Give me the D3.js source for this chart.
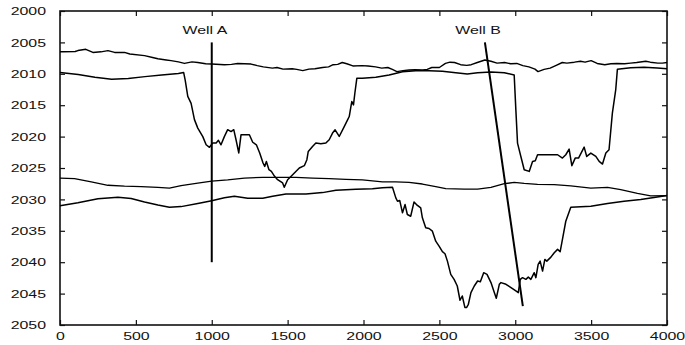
<!DOCTYPE html>
<html>
<head>
<meta charset="utf-8">
<script src="https://cdn.jsdelivr.net/npm/d3@7/dist/d3.min.js"></script>
<style>
  body { margin: 0; background: #fff; }
  #graph text { font-family: "Liberation Sans", Arial, sans-serif; font-size: 11.5px; fill: #111; }
</style>
</head>
<body>
<div id="graph"></div>
<script>
// tick values
const xTicks = [0, 500, 1000, 1500, 2000, 2500, 3000, 3500, 4000]
const yTicks = [2000, 2005, 2010, 2015, 2020, 2025, 2030, 2035, 2040, 2045, 2050]

// horizons, [distance, depth]
const topHorizon = [
  [0, 2006.5], [20, 2006.5], [100, 2006.45], [118, 2006.3], [170, 2006.1], [217, 2006.6], [270, 2006.5],
  [316, 2006.3], [360, 2006.6], [425, 2006.6], [460, 2006.85], [557, 2007.1], [610, 2007.4], [645, 2007.6],
  [700, 2007.8], [732, 2007.9], [780, 2008.1], [820, 2008.35], [870, 2008.1], [908, 2008.2], [960, 2008.4],
  [1000, 2008.45], [1083, 2008.55], [1130, 2008.5], [1171, 2008.35], [1259, 2008.45], [1300, 2008.7],
  [1340, 2008.9], [1400, 2009.1], [1430, 2009.0], [1470, 2009.25], [1530, 2009.2], [1560, 2009.3],
  [1600, 2009.5], [1640, 2009.25], [1680, 2009.2], [1730, 2009.0], [1770, 2008.9], [1800, 2008.55],
  [1830, 2008.5], [1860, 2008.2], [1890, 2008.4], [1930, 2008.75], [1990, 2008.7], [2030, 2008.75],
  [2080, 2008.9], [2120, 2009.1], [2160, 2009.0], [2190, 2009.3], [2220, 2009.65], [2260, 2009.5],
  [2300, 2009.4], [2340, 2009.35], [2390, 2009.4], [2420, 2009.3], [2450, 2009.0], [2500, 2009.0],
  [2540, 2008.35], [2570, 2008.15], [2600, 2008.2], [2640, 2008.55], [2680, 2008.65], [2710, 2008.55],
  [2750, 2008.2], [2800, 2007.8], [2840, 2008.0], [2880, 2008.3], [2930, 2008.2], [2970, 2008.4],
  [3010, 2008.35], [3050, 2008.7], [3090, 2008.9], [3130, 2009.25], [3150, 2009.65], [3190, 2009.3],
  [3230, 2009.1], [3270, 2008.65], [3310, 2008.2], [3340, 2008.3], [3390, 2008.15], [3430, 2008.0],
  [3460, 2008.15], [3500, 2007.9], [3540, 2008.35], [3590, 2008.55], [3630, 2008.4], [3670, 2008.35],
  [3720, 2008.4], [3760, 2008.3], [3800, 2008.2], [3860, 2008.0], [3890, 2008.15], [3940, 2008.3],
  [3970, 2008.3], [4000, 2008.2]
]

const channelHorizon = [
  [0, 2009.8], [120, 2010.1], [230, 2010.55], [340, 2010.85], [450, 2010.75], [560, 2010.45], [670, 2010.2],
  [780, 2009.95], [815, 2009.8], [825, 2011.0], [842, 2013.6], [864, 2014.7], [886, 2017.3], [908, 2018.65],
  [941, 2020.0], [963, 2021.3], [985, 2021.7], [1007, 2021.0], [1029, 2021.0], [1044, 2020.6], [1061, 2021.3],
  [1083, 2020.0], [1105, 2018.9], [1127, 2019.2], [1145, 2018.9], [1160, 2020.5], [1178, 2022.6],
  [1193, 2019.7], [1248, 2019.7], [1270, 2020.9], [1294, 2021.3], [1316, 2022.6], [1338, 2024.2],
  [1349, 2024.75], [1360, 2023.95], [1377, 2025.27], [1393, 2025.54], [1414, 2026.33], [1434, 2026.86],
  [1467, 2027.38], [1478, 2028.07], [1500, 2026.86], [1533, 2026.06], [1577, 2025.0], [1610, 2024.63],
  [1627, 2023.68], [1636, 2022.36], [1664, 2021.57], [1686, 2021.03], [1719, 2021.14], [1752, 2021.03],
  [1774, 2020.5], [1796, 2019.44], [1813, 2018.92], [1840, 2019.98], [1873, 2018.4], [1895, 2017.33],
  [1906, 2016.8], [1917, 2015.22], [1923, 2014.42], [1934, 2014.95], [1943, 2013.1], [1956, 2010.72],
  [1993, 2010.72], [2081, 2010.56], [2169, 2010.19], [2257, 2009.66], [2344, 2009.5], [2432, 2009.5],
  [2520, 2009.6], [2608, 2009.82], [2684, 2010.03], [2752, 2009.82], [2840, 2009.71], [2928, 2009.82],
  [2993, 2010.19], [3004, 2015.75], [3015, 2021.03], [3037, 2023.16], [3059, 2025.27], [3092, 2025.54],
  [3114, 2023.95], [3132, 2023.84], [3147, 2022.89], [3279, 2022.89], [3311, 2023.42], [3333, 2022.89],
  [3355, 2021.99], [3373, 2024.63], [3395, 2023.42], [3417, 2023.42], [3454, 2021.67], [3471, 2023.16],
  [3498, 2022.62], [3531, 2023.16], [3553, 2023.95], [3575, 2024.37], [3597, 2022.62], [3618, 2022.1],
  [3640, 2016.27], [3662, 2012.57], [3673, 2009.29], [3761, 2009.03], [3849, 2008.97], [3936, 2009.08],
  [4000, 2009.18]
]

const middleHorizon = [
  [0, 2026.6], [96, 2026.7], [206, 2027.2], [316, 2027.75], [425, 2027.9], [535, 2027.95], [645, 2028.1],
  [721, 2028.2], [798, 2027.8], [908, 2027.4], [1000, 2027.1], [1105, 2026.9], [1215, 2026.6], [1336, 2026.5],
  [1450, 2026.5], [1555, 2026.5], [1664, 2026.6], [1774, 2026.7], [1884, 2026.8], [1993, 2026.9],
  [2125, 2027.2], [2213, 2027.2], [2300, 2027.3], [2388, 2027.55], [2476, 2027.95], [2542, 2028.3],
  [2664, 2028.35], [2752, 2028.35], [2840, 2028.1], [2928, 2027.5], [2993, 2027.3], [3059, 2027.45],
  [3147, 2027.6], [3257, 2027.65], [3366, 2027.85], [3498, 2028.2], [3608, 2028.1], [3695, 2028.45],
  [3805, 2029.05], [3893, 2029.45], [4000, 2029.4]
]

const basinHorizon = [
  [0, 2031.0], [118, 2030.55], [250, 2029.9], [382, 2029.65], [469, 2029.85], [557, 2030.4], [645, 2030.9],
  [721, 2031.25], [798, 2031.15], [908, 2030.65], [1000, 2030.2], [1083, 2029.75], [1149, 2029.5],
  [1237, 2029.8], [1336, 2029.8], [1401, 2029.5], [1489, 2029.13], [1621, 2029.13], [1730, 2028.92],
  [1818, 2028.55], [1950, 2028.39], [2059, 2028.29], [2125, 2028.13], [2191, 2028.08], [2213, 2029.76],
  [2224, 2030.29], [2239, 2030.19], [2257, 2032.14], [2274, 2030.82], [2289, 2032.41], [2311, 2032.68],
  [2333, 2030.4], [2349, 2030.82], [2377, 2031.35], [2388, 2032.94], [2410, 2034.52], [2432, 2034.63],
  [2454, 2035.06], [2476, 2036.65], [2498, 2037.44], [2520, 2038.33], [2537, 2038.65], [2553, 2039.83],
  [2575, 2041.94], [2597, 2042.73], [2618, 2043.79], [2636, 2046.06], [2651, 2045.38], [2668, 2047.2],
  [2680, 2047.2], [2691, 2046.7], [2708, 2044.84], [2730, 2043.79], [2752, 2043.0], [2770, 2043.1],
  [2792, 2041.67], [2814, 2041.94], [2840, 2043.25], [2862, 2044.84], [2875, 2045.74], [2895, 2043.52],
  [2906, 2043.25], [2939, 2043.52], [2972, 2044.05], [3004, 2044.58], [3020, 2044.84], [3033, 2042.73],
  [3048, 2042.46], [3070, 2042.73], [3086, 2042.37], [3103, 2042.73], [3125, 2041.67], [3136, 2042.46],
  [3151, 2040.35], [3164, 2039.83], [3180, 2041.41], [3195, 2039.56], [3208, 2039.83], [3235, 2039.19],
  [3257, 2038.49], [3279, 2037.96], [3296, 2038.33], [3311, 2036.38], [3333, 2033.48], [3366, 2031.25],
  [3498, 2031.09], [3608, 2030.66], [3717, 2030.29], [3827, 2030.03], [3936, 2029.6], [4000, 2029.39]
]

// wells: name, top and bottom of the trajectory, label anchor
const wellNames = ['Well A', 'Well B']
const wellTops = [[1000, 2005], [2800, 2005]]
const wellBottoms = [[1000, 2040], [3050, 2047]]
const wellLabels = [[955, 2003.7], [2755, 2003.7]]

const W = 685
const H = 345
const margins = { top: 11, right: 18, bottom: 20, left: 60 }
const width = W - margins.left - margins.right
const height = H - margins.top - margins.bottom

const svg = d3.select('#graph')
  .append('svg')
  .attr('width', W)
  .attr('height', H)
  .append('g')
  .attr('transform', `translate(${margins.left}, ${margins.top})`)

const x = d3.scaleLinear([0, 4000], [0, width])
const y = d3.scaleLinear([2000, 2050], [0, height])

/**
 * gnuplot-ish fonts are wider than Liberation, so stretch the glyphs a bit
 */
function widen (sel, k) {
  sel.each(function () {
    const w = this.getComputedTextLength()
    d3.select(this)
      .attr('textLength', w * k)
      .attr('lengthAdjust', 'spacingAndGlyphs')
  })
}

const axes = [
  { axis: d3.axisBottom(x).tickValues(xTicks).tickPadding(7), at: `translate(0, ${height})`, labels: true },
  { axis: d3.axisTop(x).tickValues(xTicks), at: 'translate(0, 0)', labels: false },
  { axis: d3.axisLeft(y).tickValues(yTicks).tickPadding(14), at: 'translate(0, 0)', labels: true },
  { axis: d3.axisRight(y).tickValues(yTicks), at: `translate(${width}, 0)`, labels: false }
]

axes.forEach(a => {
  const g = svg.append('g')
    .attr('transform', a.at)
    .call(a.axis.tickSizeInner(-5).tickSizeOuter(0).tickFormat(d3.format('d')))
  g.select('.domain').remove()
  g.selectAll('.tick line')
    .attr('stroke', '#111')
    .attr('stroke-width', 1.2)
  if (!a.labels) g.selectAll('.tick text').remove()
  else {
    g.selectAll('.tick text')
      .attr('fill', '#111')
      .style('font-family', '"Liberation Sans", Arial, sans-serif')
      .style('font-size', '11.5px')
      .call(widen, 1.38)
  }
})

// frame
svg.append('rect')
  .attr('x', 0)
  .attr('y', 0)
  .attr('width', width)
  .attr('height', height)
  .attr('fill', 'none')
  .attr('stroke', '#111')
  .attr('stroke-width', 1.6)

const line = d3.line()
  .x(d => x(d[0]))
  .y(d => y(d[1]))

const horizons = [
  { data: topHorizon, w: 1.4 },
  { data: channelHorizon, w: 1.5 },
  { data: middleHorizon, w: 1.3 },
  { data: basinHorizon, w: 1.5 }
]

svg.append('g')
  .selectAll('path')
  .data(horizons)
  .enter()
  .append('path')
  .attr('fill', 'none')
  .attr('stroke', '#000')
  .attr('stroke-linejoin', 'round')
  .attr('stroke-width', d => d.w)
  .attr('d', d => line(d.data))

// wells
const wells = svg.append('g')

wells.selectAll('line')
  .data(wellNames)
  .enter()
  .append('line')
  .attr('x1', (d, i) => x(wellTops[i][0]))
  .attr('y1', (d, i) => y(wellTops[i][1]))
  .attr('x2', (d, i) => x(wellBottoms[i][0]))
  .attr('y2', (d, i) => y(wellBottoms[i][1]))
  .attr('stroke', '#000')
  .attr('stroke-width', 2)

wells.selectAll('text')
  .data(wellNames)
  .enter()
  .append('text')
  .attr('x', (d, i) => x(wellLabels[i][0]))
  .attr('y', (d, i) => y(wellLabels[i][1]))
  .attr('text-anchor', 'middle')
  .text(d => d)
  .call(widen, 1.38)
</script>
</body>
</html>
